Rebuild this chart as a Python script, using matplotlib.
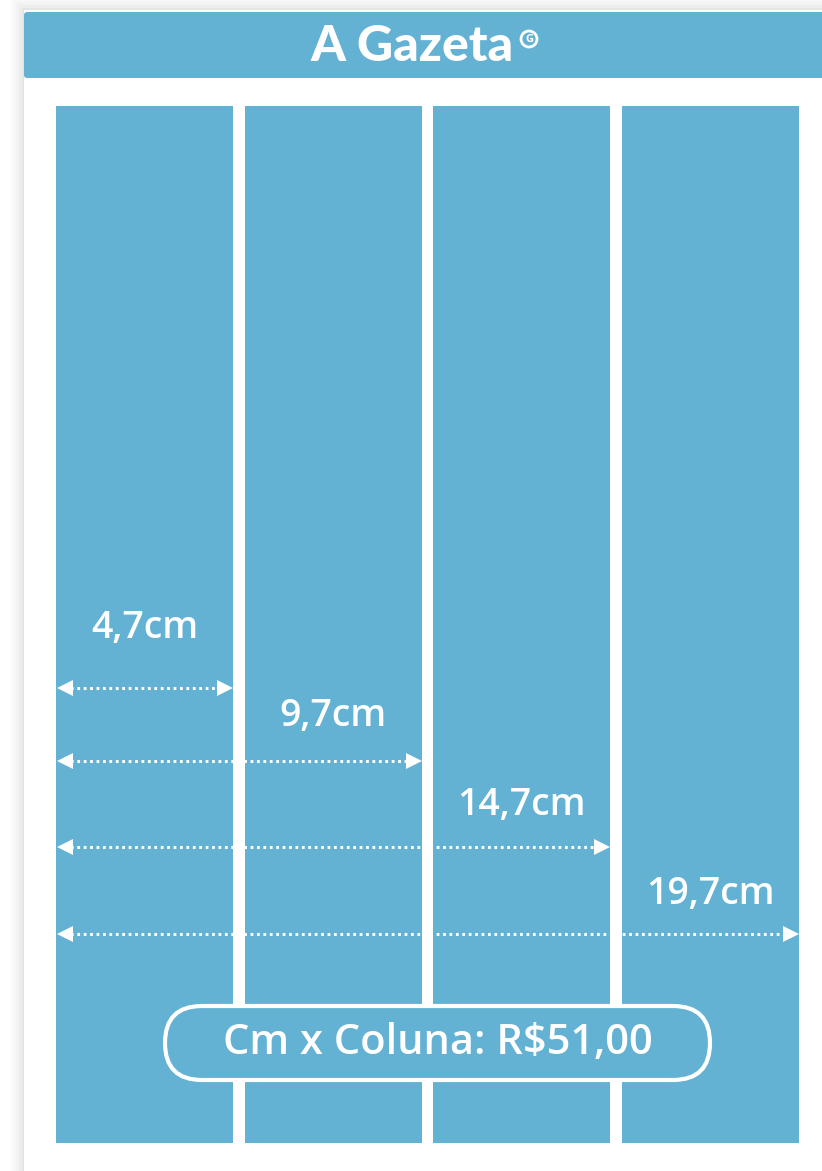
import matplotlib.pyplot as plt
from matplotlib.patches import Rectangle, FancyBboxPatch, Circle

# dados: largura acumulada de cada formato (cm) e preço por cm x coluna
widths = [4.7, 9.7, 14.7, 19.7]
labels = ['4,7cm', '9,7cm', '14,7cm', '19,7cm']
col_width = 4.7
page_height = 27.5
price_label = 'Cm x Coluna: R$51,00'

BLUE = '#63b2d4'
FONT = ['Open Sans', 'DejaVu Sans']

W, H = 822, 1171
S = 743 / 19.7  # pixels por cm
x0, y0 = 56, 106  # canto do primeiro bloco, em pixels


def px(v):
    return v / S


fig = plt.figure(figsize=(W / 100, H / 100), dpi=100)
ax = fig.add_axes([0, 0, 1, 1])
ax.set_xlim(px(-x0), px(W - x0))
ax.set_ylim(px(H - y0), px(-y0))
ax.set_aspect('equal')
ax.axis('off')

# sombra do cartão
for i, a in enumerate([0.010, 0.014, 0.018, 0.024, 0.03]):
    d = px(14 - i * 3)
    ax.add_patch(Rectangle((px(24 - x0) - d, px(10 - y0) - d), px(900), px(1300),
                           facecolor='black', alpha=a, lw=0, zorder=0))
ax.add_patch(Rectangle((px(24 - x0), px(10 - y0)), px(900), px(1300),
                       facecolor='white', lw=0, zorder=1))

# cabeçalho
ax.add_patch(FancyBboxPatch((px(24 - x0), px(12 - y0)), px(900), px(66),
                            boxstyle='round,pad=0,rounding_size=%f' % px(3),
                            facecolor=BLUE, lw=0, zorder=2))
ax.text(px(412 - x0), px(47 - y0), 'A Gazeta', color='white', fontsize=36,
        fontweight='black', family=['Lato', 'DejaVu Sans'], ha='center', va='center', zorder=3)
# selo "G" do logotipo
ax.add_patch(Circle((px(529 - x0), px(39 - y0)), px(8), facecolor='none',
                    edgecolor='white', lw=2, zorder=3))
ax.text(px(529 - x0), px(39.5 - y0), 'G', color='white', fontsize=8,
        fontweight='bold', family=FONT, ha='center', va='center', zorder=3)

# colunas
for w in widths:
    ax.add_patch(Rectangle((w - col_width, 0), col_width, page_height,
                           facecolor=BLUE, lw=0, zorder=2))

# setas de medida
arrow_y = [px(688 - y0), px(761 - y0), px(847 - y0), px(934 - y0)]
label_y = [px(628 - y0), px(716 - y0), px(805 - y0), px(894 - y0)]
for i, w in enumerate(widths):
    x_end = w - px(8)
    ax.plot([px(8), x_end - px(6)], [arrow_y[i]] * 2, color='white', lw=2.2,
            linestyle=(0, (0.9, 1.2)), solid_capstyle='butt', zorder=4)
    ax.plot([px(9)], [arrow_y[i]], marker='<', color='white', ms=11, mew=0, zorder=5)
    ax.plot([x_end], [arrow_y[i]], marker='>', color='white', ms=11, mew=0, zorder=5)
    ax.text(w - col_width / 2, label_y[i], labels[i], color='white', fontsize=27,
            fontweight='semibold', family=FONT, ha='center', va='center', zorder=5)

# selo de preço
pill_x, pill_y = px(165 - x0), px(1006 - y0)
pill_w, pill_h = px(545), px(74)
ax.add_patch(FancyBboxPatch((pill_x, pill_y), pill_w, pill_h,
                            boxstyle='round,pad=0,rounding_size=%f' % (pill_h / 2),
                            facecolor=BLUE, edgecolor='white', lw=3, zorder=6))
ax.text(pill_x + pill_w / 2, pill_y + pill_h / 2, price_label, color='white',
        fontsize=30, fontweight='semibold', family=FONT, ha='center', va='center', zorder=7)

fig.savefig('out.png', dpi=100)
